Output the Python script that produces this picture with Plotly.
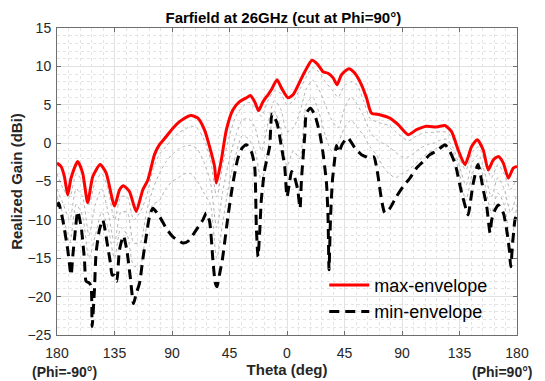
import plotly.graph_objects as go

# ---------------- data ----------------
tick_vals = [-180, -135, -90, -45, 0, 45, 90, 135, 180]
tick_text = ["180", "135", "90", "45", "0", "45", "90", "135", "180"]

max_theta = [-180, -176.8, -174.2, -171.6, -169, -163.8, -159.9, -156, -152, -146.2,
             -141.5, -135, -131.1, -128, -123.3, -118, -112.9, -108.9, -103.7, -99.8,
             -94.5, -89.3, -84.1, -77.5, -74.9, -69.7, -64.5, -60.6, -56.7, -55.3,
             -51.4, -47.5, -42.3, -37.1, -31.8, -28.7, -25.3, -22.2, -18.8, -14.9,
             -12.2, -7.8, -4.4, 0.8, 4.7, 10, 13.9, 19.6, 24.3, 28.2,
             32.1, 36.1, 39.2, 42.6, 48.4, 53.1, 58.3, 62.2, 66.1, 72.6,
             80.5, 87, 94.8, 101.4, 109.2, 117.1, 123.6, 128.8, 134, 139.3,
             144.5, 148.9, 153.6, 157.5, 161.4, 165.4, 169.3, 173.2, 177.1, 180]
max_gain = [-2.6, -3.05, -4.35, -6.75, -4.55, -2.4, -3.9, -7.75, -4.35, -2.8,
            -3.9, -8.2, -6.1, -5.55, -6.3, -8.9, -6.1, -4.8, -1.5, -0.2,
            0.86, 1.95, 2.8, 3.5, 3.6, 3.25, 1.7, -0.45, -3.05, -5.2,
            -2.2, 1.7, 4.35, 5.4, 5.9, 6.2, 5.4, 4.25, 5.4, 6.3,
            6.95, 8.25, 7.2, 5.9, 6.3, 8.0, 9.3, 10.8, 10.2, 9.3,
            9.1, 8.5, 7.6, 8.9, 9.7, 9.1, 7.6, 5.9, 3.9, 3.7,
            3.25, 2.4, 1.1, 1.75, 2.2, 2.1, 2.3, 1.5, -0.9, -2.8,
            -0.45, 0.45, -0.9, -3.5, -2.2, -1.75, -2.6, -4.55, -3.25, -3.05]

min_theta = [-180, -178.7, -175.5, -171.6, -169.7, -168.9, -167.7, -165.6, -163.8, -161.1,
             -158.5, -157.2, -154.6, -153.3, -152.5, -150.7, -149.4, -146.8, -144.2, -140.3,
             -138.2, -136.8, -135, -133.2, -131.1, -128, -125.4, -122.7, -120.1, -118,
             -115.4, -112.9, -110.2, -107.6, -105, -99.8, -94.5, -89.3, -81.5, -77.6,
             -71, -65.8, -63.2, -60.6, -58, -56.1, -54.8, -52.7, -50.6, -46.2,
             -42.3, -38.4, -35, -31.8, -27.9, -25.3, -24, -22.7, -21.4, -20.1,
             -17.5, -13.6, -11.7, -7.8, -4.4, -1.8, 0, 2.1, 3.6, 6,
             8.4, 10.2, 11.3, 13.9, 15.2, 18.3, 21.7, 25.6, 28.2, 29.5,
             30.9, 32.1, 32.9, 34, 35.5, 37.4, 38.7, 40.5, 43, 47.5,
             53, 58.3, 64, 68, 70, 71.3, 74, 76.6, 80.5, 85.7,
             90.9, 96.2, 101.4, 106.6, 111.8, 117.1, 121, 123.6, 127.5, 131.4,
             132.8, 136.7, 141.8, 143.2, 145.8, 149.5, 153.6, 156.3, 158.9, 160.2,
             162.8, 165.4, 169.3, 171.9, 174, 175.1, 176.6, 178.4, 180]
min_gain = [-8.25, -7.8, -10, -13.9, -16.5, -17.2, -14.8, -11.3, -8.9, -10.9,
            -15.2, -18.0, -18.25, -18.7, -23.9, -19.1, -14.3, -11.3, -10, -13.5,
            -15.6, -17.2, -17.2, -18.0, -13.9, -12.1, -13.9, -17.4, -20.9, -19.6,
            -18.25, -15.2, -12.2, -9.55, -8.5, -9.55, -11.1, -12.2, -13.0, -12.8,
            -11.3, -10, -9.1, -10.2, -15.2, -18.25, -18.7, -17, -15.2, -9.55,
            -5.2, -1.95, -0.6, -0.2, -1.1, -3.05, -10.9, -14.8, -11.7, -7.4,
            -3.5, -0.45, 3.8, 2.6, -0.45, -3.05, -7, -5.0, -3.7, -4.5,
            -6.1, -8.5, -4.8, 1, 3.9, 4.55, 3.7, 1.3, -1.3, -3.05,
            -5.2, -9.55, -16.5, -10, -5, -2, -0.3, -1.2, -0.2, 0.7,
            -0.6, -1.5, -1.9, -1.8, -3.05, -4.35, -7.4, -9.1, -8.5, -6.95,
            -5.65, -4.55, -3.25, -2.4, -1.5, -1.0, -0.5, -0.2, -1.1, -2.6,
            -3.5, -6.5, -9.35, -8.05, -5.2, -2.8, -6.1, -8.25, -11.7, -10,
            -8.7, -8.05, -9.1, -11.3, -13.9, -16.1, -13, -10, -9.1]

# individual cut curves (grey dotted), read coarsely every 5 degrees
cut_theta = [-180, -175, -170, -165, -160, -155, -150, -145, -140, -135,
             -130, -125, -120, -115, -110, -105, -100, -95, -90, -85,
             -80, -75, -70, -65, -60, -55, -50, -45, -40, -35,
             -30, -25, -20, -15, -10, -5, 0, 5, 10, 15,
             20, 25, 30, 35, 40, 45, 50, 55, 60, 65,
             70, 75, 80, 85, 90, 95, 100, 105, 110, 115,
             120, 125, 130, 135, 140, 145, 150, 155, 160, 165,
             170, 175, 180]
cut_a = [-4, -6, -7, -4, -5, -8, -5, -4, -6, -10,
         -7, -7, -10, -9, -7, -3.5, -1.5, -0.5, 0.5, 1.3,
         1.8, 2.2, 1.9, 0.5, -2, -7, -2.5, 1, 3.5, 4.7,
         5.3, 4.6, 3.5, 5.5, 6.8, 6.5, 5, 5.5, 7, 8.6,
         9.8, 9.3, 8, 7, 6, 7.5, 8, 7.5, 5.5, 3.2,
         2.8, 2.5, 2.3, 1.5, 0.8, 0.3, 0.8, 1.2, 1.4, 1.4,
         1.5, 1.4, 0.5, -2, -3.5, -1.2, -0.5, -2.5, -4.5, -2.8,
         -4, -6, -4.5]
cut_b = [-6, -8, -10, -6, -7, -12, -8, -6, -9, -13,
         -9, -9, -13, -13, -9, -6, -4, -2.5, -1.5, -0.8,
         -0.4, -0.3, -0.8, -2.5, -5, -11, -6, -2, 1, 3,
         3.2, 2, -1, 2.5, 5.5, 4.5, 1.5, 2, 4, 7,
         8.2, 7, 5, 3, 2, 4.5, 6, 5, 3.5, 1.5,
         0.5, 0, -0.5, -1.2, -1.8, -1.8, -1.2, -0.6, -0.2, 0,
         0.4, 0.5, -0.6, -3, -5.5, -2.5, -1.5, -4, -7, -4.5,
         -6, -9, -6.5]
cut_c = [-7, -9.5, -13, -8, -9.5, -15, -12, -9, -11, -15,
         -11, -12, -16, -16, -11, -8, -7.5, -6, -5, -4.5,
         -4, -4, -5, -6.5, -8, -15, -10, -5, -1.5, 1,
         0.5, -1, -5, -1, 4.2, 2, -3, -1, -2, 5,
         6, 4, 1, -1, 0, 2, 3, 2, 1, -0.5,
         -1.5, -3, -4, -4.5, -4, -3.5, -2.8, -2, -1.3, -0.9,
         -0.3, -0.2, -1.2, -4, -7.5, -4, -2.5, -5.5, -9, -6.5,
         -8, -13, -8]

# ---------------- figure ----------------
# the page body has an 8px margin, so the figure is 8px smaller and its
# left/top margins are reduced by 8px to land the plot where the reference has it
FONT = "Liberation Sans, Arial, Helvetica, sans-serif"
W, H = 537, 373
fig = go.Figure()

for cut in (cut_a, cut_b, cut_c):
    fig.add_trace(go.Scatter(
        x=cut_theta, y=cut, mode="lines", showlegend=False, hoverinfo="skip",
        line=dict(color="rgb(180,180,180)", width=1, dash="dot", shape="spline", smoothing=0.7)))

fig.add_trace(go.Scatter(
    x=min_theta, y=min_gain, mode="lines", name="min-envelope", legendrank=2,
    line=dict(color="black", width=3, dash="10px,6px", shape="spline", smoothing=0.6)))

fig.add_trace(go.Scatter(
    x=max_theta, y=max_gain, mode="lines", name="max-envelope", legendrank=1,
    line=dict(color="#ff0000", width=3, shape="spline", smoothing=0.6)))

axis_common = dict(
    showline=True, linecolor="#6e6e6e", linewidth=1, mirror="ticks",
    ticks="inside", ticklen=4, tickcolor="#6e6e6e", automargin=False,
    showgrid=True, gridcolor="#e2e2e2", gridwidth=1, zeroline=False,
    tickfont=dict(family=FONT, size=14, color="#262626"),
)

fig.update_layout(
    width=W, height=H,
    margin=dict(l=49, r=28, t=20, b=46),
    paper_bgcolor="white", plot_bgcolor="white",
    font=dict(family=FONT, color="#262626"),
    title=dict(text="<b>Farfield at 26GHz (cut at Phi=90°)</b>",
               font=dict(family=FONT, size=15, color="#000000"),
               x=0.492, xref="paper", xanchor="center",
               y=1 - 10 / H, yref="container", yanchor="middle"),
    xaxis=dict(range=[-180, 180], tickvals=tick_vals, ticktext=tick_text,
               ticklabelstandoff=5,
               title=dict(text="<b>Theta (deg)</b>", font=dict(family=FONT, size=15, color="#262626"),
                          standoff=4),
               minor=dict(dtick=9, tick0=-180, showgrid=True, gridcolor="#e4e4e4",
                          griddash="dot", gridwidth=1, ticks=""),
               **axis_common),
    yaxis=dict(range=[-25, 15], dtick=5, tick0=-25, ticklabelstandoff=2,
               title=dict(text="<b>Realized Gain (dBi)</b>", font=dict(family=FONT, size=15, color="#262626"),
                          standoff=6),
               minor=dict(dtick=1, tick0=-25, showgrid=True, gridcolor="#e4e4e4",
                          griddash="dot", gridwidth=1, ticks=""),
               **axis_common),
    legend=dict(x=0.581, y=0.222, xanchor="left", yanchor="top",
                bgcolor="rgba(0,0,0,0)", borderwidth=0,
                font=dict(family=FONT, size=18, color="#000000"),
                itemwidth=40, tracegroupgap=0),
    annotations=[
        dict(text="<b>(Phi=-90°)</b>", x=-0.058, y=-0.12, xref="paper", yref="paper",
             xanchor="left", yanchor="middle", showarrow=False,
             font=dict(family=FONT, size=14, color="#262626")),
        dict(text="<b>(Phi=90°)</b>", x=1.038, y=-0.12, xref="paper", yref="paper",
             xanchor="right", yanchor="middle", showarrow=False,
             font=dict(family=FONT, size=14, color="#262626")),
    ],
)

fig.write_html("out.html")
